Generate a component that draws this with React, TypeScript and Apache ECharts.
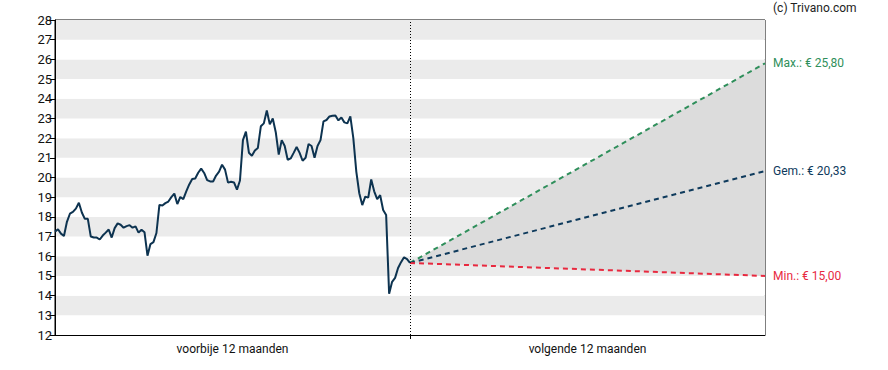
import React, { useEffect, useRef } from "react";
import * as echarts from "echarts";

// Historical closing prices (equally spaced samples over the past 12 months)
const historyValues: number[] = [
  17.25, 17.37, 17.15, 17.03, 17.75, 18.16, 18.25, 18.42, 18.72, 18.22,
  17.9, 17.9, 17.0, 16.95, 16.95, 16.85, 17.05, 17.2, 17.36, 16.95,
  17.43, 17.67, 17.6, 17.45, 17.53, 17.58, 17.45, 17.52, 17.2, 17.35,
  17.22, 16.03, 16.62, 16.72, 17.18, 18.61, 18.58, 18.7, 18.78, 19.0,
  19.18, 18.65, 19.01, 18.9, 19.3, 19.65, 19.92, 19.95, 20.24, 20.45,
  20.23, 19.87, 19.8, 19.8, 20.1, 20.3, 20.65, 20.4, 19.74, 19.78,
  19.75, 19.38, 19.85, 21.9, 22.33, 21.26, 21.1, 21.37, 21.5, 22.6,
  22.75, 23.4, 22.7, 23.0, 22.3, 21.16, 21.9, 21.6, 20.9, 20.97,
  21.25, 21.55, 21.25, 20.85, 21.0, 21.7, 21.6, 21.0, 21.6, 21.9,
  22.85, 22.92, 23.1, 23.14, 23.15, 22.9, 23.05, 22.8, 22.75, 23.1,
  22.0, 20.3, 19.2, 18.6, 19.03, 18.98, 19.9, 19.3, 18.9, 19.1,
  18.35, 18.1, 14.1, 14.7, 14.9, 15.4, 15.7, 15.95, 15.85, 15.66,
];

// Forecast targets after 12 months
const forecastNames: string[] = ["Max.", "Gem.", "Min."];
const forecastTargets: number[] = [25.8, 20.33, 15.0];
const forecastColors: string[] = ["#2f8f5b", "#0e3a5c", "#e8293f"];

const periodLabels: string[] = ["voorbije 12 maanden", "volgende 12 maanden"];
const yMin = 12;
const yMax = 28;
const copyright = "(c) Trivano.com";

const fmtEuro = (v: number) => "€ " + v.toFixed(2).replace(".", ",");

export default function App() {
  const ref = useRef<HTMLDivElement>(null);

  useEffect(() => {
    if (!ref.current) return;
    const chart = echarts.init(ref.current, null, { renderer: "svg" });

    const n = historyValues.length;
    const splitX = n - 1;
    const endX = splitX * 2;
    const lastValue = historyValues[n - 1];
    const maxT = forecastTargets[0];
    const minT = forecastTargets[2];

    const historyData = historyValues.map((v, i) => [i, v]);

    const forecastSeries = forecastNames.map((name, idx) => ({
      type: "line",
      name,
      xAxisIndex: 0,
      symbol: "none",
      z: 4,
      lineStyle: { color: forecastColors[idx], width: 2, type: [5, 4] },
      endLabel: {
        show: true,
        distance: 8,
        formatter: () => `${name}: ${fmtEuro(forecastTargets[idx])}`,
        color: forecastColors[idx],
        fontSize: 12,
        fontFamily: "Roboto",
      },
      data: [
        [splitX, lastValue],
        [endX, forecastTargets[idx]],
      ],
    }));

    chart.setOption({
      animation: false,
      textStyle: { fontFamily: "Roboto" },
      graphic: [
        {
          type: "text",
          x: 773,
          y: 2,
          style: {
            text: copyright,
            fontSize: 12,
            fontFamily: "Roboto",
            fill: "#222",
            verticalAlign: "top",
            align: "left",
          },
        },
      ],
      grid: {
        left: 55,
        right: 123,
        top: 20,
        bottom: 35,
        show: true,
        borderColor: "#000",
        borderWidth: 1,
        backgroundColor: "transparent",
      },
      xAxis: [
        {
          type: "value",
          min: 0,
          max: endX,
          show: true,
          axisLine: { show: true, lineStyle: { color: "#000", width: 1 } },
          axisTick: { show: true, length: 4, customValues: [splitX], lineStyle: { color: "#000" } },
          axisLabel: { show: false },
          splitLine: { show: false },
        },
        {
          type: "category",
          data: periodLabels,
          position: "bottom",
          boundaryGap: true,
          axisLine: { show: false },
          axisTick: { show: false },
          splitLine: { show: false },
          axisLabel: { color: "#111", fontSize: 12, margin: 8, fontFamily: "Roboto" },
        },
      ],
      yAxis: {
        type: "value",
        min: yMin,
        max: yMax,
        interval: 1,
        axisLine: { show: true, lineStyle: { color: "#000", width: 1 } },
        axisTick: { show: true, length: 5, lineStyle: { color: "#000" } },
        axisLabel: { color: "#111", fontSize: 13, margin: 3, fontFamily: "Roboto" },
        splitLine: { show: false },
        splitArea: { show: true, areaStyle: { color: ["#ffffff", "#ebebeb"] } },
      },
      series: [
        {
          type: "custom",
          xAxisIndex: 0,
          z: 1,
          silent: true,
          data: [[splitX]],
          renderItem: (_params: any, api: any) => {
            const p0 = api.coord([splitX, lastValue]);
            const p1 = api.coord([endX, maxT]);
            const p2 = api.coord([endX, minT]);
            return {
              type: "polygon",
              shape: { points: [p0, p1, p2] },
              style: { fill: "#dcdcdc" },
            };
          },
        },
        {
          type: "line",
          name: "Koers",
          xAxisIndex: 0,
          symbol: "none",
          z: 5,
          lineStyle: { color: "#0d3350", width: 2 },
          data: historyData,
          markLine: {
            silent: true,
            symbol: "none",
            label: { show: false },
            lineStyle: { color: "#000", width: 1, type: [1, 2] },
            data: [{ xAxis: splitX }],
          },
        },
        ...forecastSeries,
      ],
    });

    return () => chart.dispose();
  }, []);

  return (
    <div
      ref={ref}
      style={{ position: "absolute", left: 0, top: 0, width: 888, height: 370 }}
    />
  );
}
